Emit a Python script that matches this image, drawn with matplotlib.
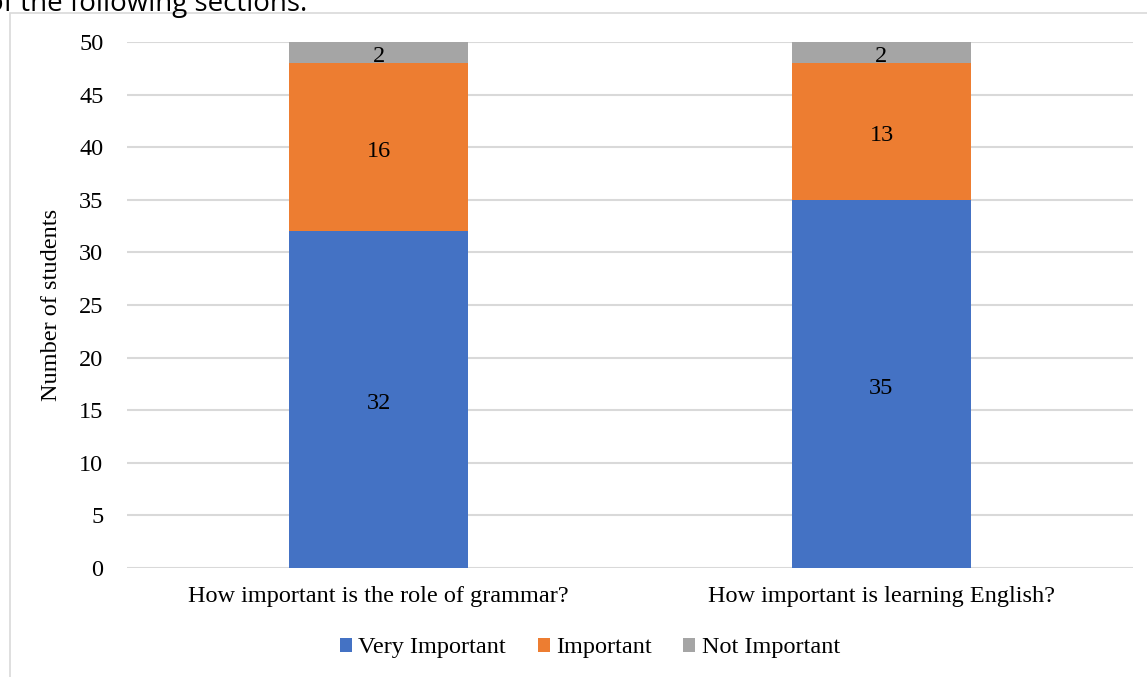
import matplotlib
matplotlib.use("Agg")
import matplotlib.pyplot as plt
from matplotlib.patches import Rectangle

categories = ["How important is the role of grammar?", "How important is learning English?"]
very_important = [32, 35]
important = [16, 13]
not_important = [2, 2]
series_names = ["Very Important", "Important", "Not Important"]
colors = ["#4472C4", "#ED7D31", "#A5A5A5"]
yticks = [0, 5, 10, 15, 20, 25, 30, 35, 40, 45, 50]

W, H = 1147, 677
fig = plt.figure(figsize=(W / 100, H / 100), dpi=100)
serif = ["Liberation Serif", "DejaVu Serif"]
FS = 17.5

# chart border
fig.patches.append(Rectangle((10 / W, -0.1), 1.2, 1.1 - 13 / H, transform=fig.transFigure,
                             fill=False, edgecolor="#d9d9d9", linewidth=1.2))
# cropped document text at top
fig.text(307 / W, 1 - 11 / H, "of the following sections.", family=["Open Sans", "DejaVu Sans"],
         fontsize=20, va="baseline", ha="right", color="black")

ax = fig.add_axes([127 / W, 1 - 568 / H, (1133 - 127) / W, (568 - 42) / H])
x = list(range(len(categories)))
bw = 0.354
stacks = [very_important, important, not_important]
bottom = [0] * len(categories)
for vals, name, c in zip(stacks, series_names, colors):
    ax.bar(x, vals, bw, bottom=bottom, color=c, label=name, zorder=3)
    for xi, b, v in zip(x, bottom, vals):
        ax.annotate(str(v), (xi, b + v / 2), xytext=(0, -3), textcoords="offset points",
                    ha="center", va="center", family=serif, fontsize=FS, color="black",
                    zorder=4)
    bottom = [b + v for b, v in zip(bottom, vals)]

ax.set_xlim(-0.5, len(categories) - 0.5)
ax.set_ylim(0, 50)
ax.set_yticks(yticks)
ax.set_yticklabels([str(t) for t in yticks], family=serif, fontsize=FS)
ax.set_xticks(x)
ax.set_xticklabels(categories, family=serif, fontsize=FS)
ax.tick_params(axis="both", length=0)
ax.tick_params(axis="y", pad=17)
ax.tick_params(axis="x", pad=13)
ax.grid(axis="y", color="#d9d9d9", linewidth=1.5, zorder=0)
for s in ax.spines.values():
    s.set_visible(False)
ax.set_ylabel("Number of students", family=serif, fontsize=FS, labelpad=12)

leg = fig.legend(loc="center", bbox_to_anchor=(590 / W, 1 - 648 / H), ncol=3, frameon=False,
                 prop={"family": serif, "size": FS}, handlelength=0.5, handleheight=0.5,
                 handletextpad=0.25, columnspacing=1.3)

fig.savefig("out.png", dpi=100)
